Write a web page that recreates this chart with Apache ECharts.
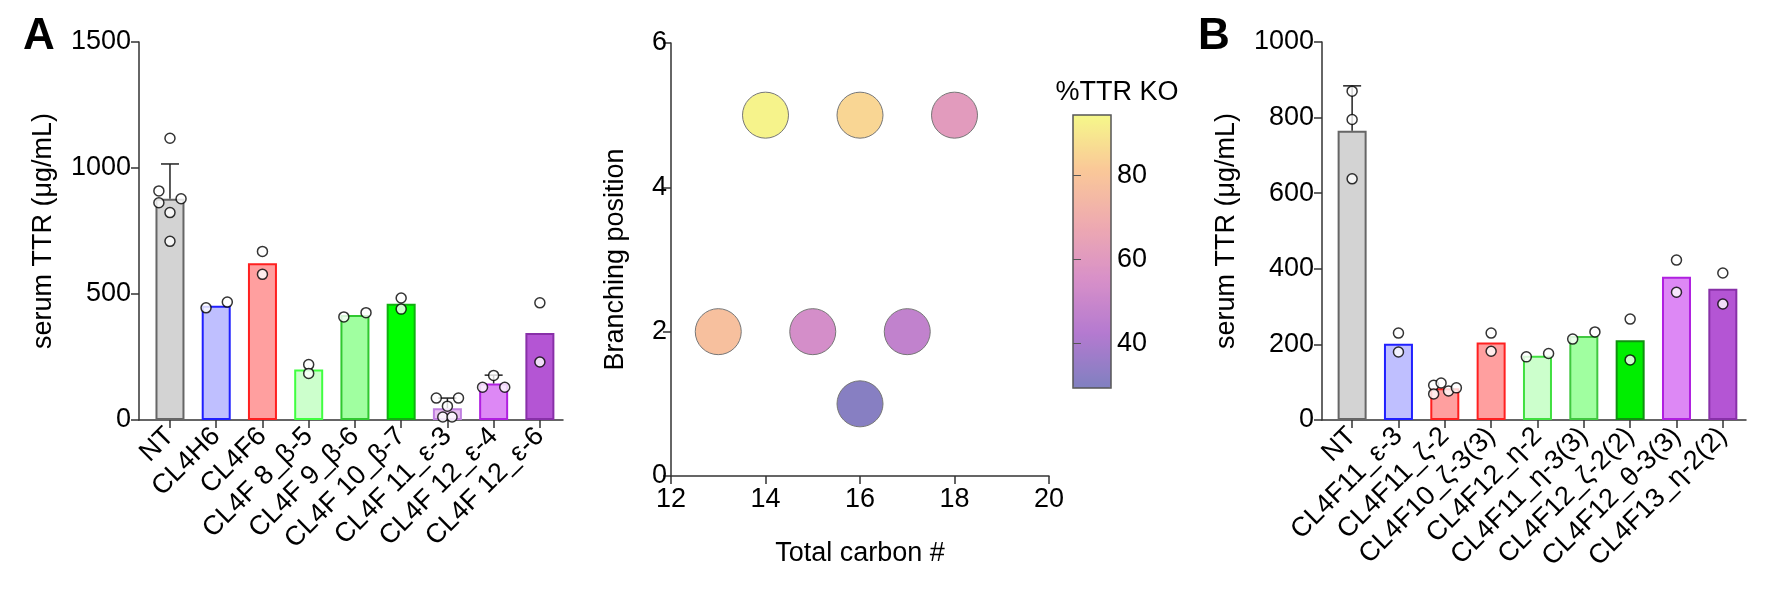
<!DOCTYPE html>
<html>
<head>
<meta charset="utf-8">
<script src="https://cdn.jsdelivr.net/npm/echarts@6/dist/echarts.min.js"></script>
<style>
  html, body { margin: 0; padding: 0; background: #fff; }
  #chart { width: 1774px; height: 591px; }
</style>
</head>
<body>
<div id="chart"></div>
<script>
// panel A
let namesA = ['NT', 'CL4H6', 'CL4F6', 'CL4F 8_β-5', 'CL4F 9_β-6', 'CL4F 10_β-7', 'CL4F 11_ε-3', 'CL4F 12_ε-4', 'CL4F 12_ε-6'];
let meanA = [878, 453, 622, 200, 417, 461, 47, 145, 345];
let errA = [1016, null, null, null, null, null, 87, 178, null];
let fillA = ['#d3d3d3', '#bfbfff', '#ff9f9f', '#ccffcc', '#a0ffa0', '#00ff00', '#e8c0f0', '#dd88f5', '#b455d4'];
let lineA = ['#666666', '#2020ff', '#ff2020', '#40ff40', '#30c830', '#10b010', '#c080e0', '#b020e0', '#8830a8'];
// dots: [bar index, offset, value]
let dotsA = [
    [0, 0, 1118], [0, -0.24, 909], [0, -0.24, 862], [0, 0.24, 878], [0, 0, 823], [0, 0, 709],
    [1, -0.22, 445], [1, 0.24, 468],
    [2, 0, 669], [2, 0, 578],
    [3, 0, 220], [3, 0, 185],
    [4, -0.24, 409], [4, 0.24, 426],
    [5, 0, 484], [5, 0, 440],
    [6, -0.24, 87], [6, 0.24, 87], [6, 0, 55], [6, -0.1, 12], [6, 0.1, 12],
    [7, -0.24, 130], [7, 0.24, 130], [7, 0, 177],
    [8, 0, 465], [8, 0, 230]
];

// panel B
let namesB = ['NT', 'CL4F11_ε-3', 'CL4F11_ζ-2', 'CL4F10_ζ-3(3)', 'CL4F12_η-2', 'CL4F11_η-3(3)', 'CL4F12_ζ-2(2)', 'CL4F12_θ-3(3)', 'CL4F13_η-2(2)'];
let meanB = [765, 202, 84, 205, 170, 222, 211, 379, 347];
let errB = [884, null, null, null, null, null, null, null, null];
let fillB = ['#d3d3d3', '#bfbfff', '#ff9f9f', '#ff9f9f', '#ccffcc', '#a0ffa0', '#00ee00', '#dd88f5', '#b455d4'];
let lineB = ['#666666', '#2020ff', '#ff2020', '#ff2020', '#40e040', '#40c840', '#109010', '#b020e0', '#8830a8'];
let dotsB = [
    [0, 0, 870], [0, 0, 795], [0, 0, 638],
    [1, 0, 230], [1, 0, 180],
    [2, -0.24, 92], [2, -0.08, 98], [2, -0.24, 69], [2, 0.08, 77], [2, 0.25, 85],
    [3, 0, 230], [3, 0, 182],
    [4, -0.24, 167], [4, 0.24, 176],
    [5, -0.24, 214], [5, 0.24, 233],
    [6, 0, 267], [6, 0, 159],
    [7, 0, 423], [7, 0, 338],
    [8, 0, 389], [8, 0, 307]
];

// middle: [total carbon, branching position, %TTR KO]
let bubbles = [
    [14, 5, 93], [16, 5, 85], [18, 5, 61],
    [13, 2, 78], [15, 2, 54], [17, 2, 47],
    [16, 1, 31]
];
let koMin = 29.3, koMax = 94.3;
let koTicks = [40, 60, 80];
let koColors = ['#8080c0', '#b47ad0', '#d890c8', '#eeaab0', '#fac898', '#f5f88a'];

let font = 'Liberation Sans, Arial, sans-serif';
let txt = { color: '#000', fontFamily: font, fontSize: 27 };
let axLine = { show: true, onZero: false, lineStyle: { color: '#333', width: 1.5 } };
let axTick = { show: true, length: 8, lineStyle: { color: '#333', width: 1.5 } };
let plain = v => String(v);

function barXAxis(gi, min, names) {
    return {
        type: 'value', gridIndex: gi, min: min, max: 8.5,
        splitLine: { show: false },
        axisLine: axLine,
        axisTick: Object.assign({ customValues: [0, 1, 2, 3, 4, 5, 6, 7, 8] }, axTick),
        axisLabel: Object.assign({
            customValues: [0, 1, 2, 3, 4, 5, 6, 7, 8], rotate: 45, margin: 12,
            formatter: v => names[Math.round(v)]
        }, txt)
    };
}
function barYAxis(gi, max, interval) {
    return {
        type: 'value', gridIndex: gi, min: 0, max: max, interval: interval,
        name: 'serum TTR (μg/mL)', nameLocation: 'middle', nameGap: 82,
        nameTextStyle: txt,
        splitLine: { show: false },
        axisLine: axLine, axisTick: axTick,
        axisLabel: Object.assign({ margin: 8, formatter: plain }, txt)
    };
}
function barSeries(ai, mean, fill, line, err, dots) {
    let errIdx = err.map((e, i) => i).filter(i => err[i] != null);
    return [{
        type: 'bar', xAxisIndex: ai, yAxisIndex: ai, barWidth: 29,
        data: mean.map((v, i) => ({
            value: [i, v],
            itemStyle: { color: fill[i], borderColor: line[i], borderWidth: 2 }
        })),
        z: 2
    }, {
        type: 'custom', xAxisIndex: ai, yAxisIndex: ai, z: 3,
        data: errIdx.map(i => [i, err[i]]),
        renderItem: (params, api) => {
            let i = errIdx[params.dataIndex];
            let top = api.coord([i, err[i]]);
            let base = api.coord([i, mean[i]]);
            let st = { stroke: '#222', lineWidth: 1.5 };
            return { type: 'group', children: [
                { type: 'line', shape: { x1: top[0], y1: top[1], x2: base[0], y2: base[1] }, style: st },
                { type: 'line', shape: { x1: top[0] - 9, y1: top[1], x2: top[0] + 9, y2: top[1] }, style: st }
            ] };
        }
    }, {
        type: 'scatter', xAxisIndex: ai, yAxisIndex: ai, z: 4,
        symbol: 'circle', symbolSize: 10,
        itemStyle: { color: '#fff', borderColor: '#000', borderWidth: 1.5 },
        data: dots.map(d => [d[0] + d[1], d[2]])
    }];
}

let chart = echarts.init(document.getElementById('chart'));
chart.setOption({
    backgroundColor: '#fff',
    animation: false,
    title: [
        { text: 'A', left: 18, top: 10, textStyle: { fontFamily: font, fontSize: 44, fontWeight: 'bold', color: '#000' } },
        { text: 'B', left: 1193, top: 10, textStyle: { fontFamily: font, fontSize: 44, fontWeight: 'bold', color: '#000' } },
        { text: '%TTR KO', left: 1112, top: 74, textAlign: 'center', textStyle: { fontFamily: font, fontSize: 27, fontWeight: 'normal', color: '#000' } }
    ],
    grid: [
        { left: 139, width: 424, top: 42, bottom: 171 },
        { left: 671, width: 378, top: 43, bottom: 115 },
        { left: 1322, width: 424, top: 42, bottom: 171 },
        { left: 1073, width: 38, top: 115, height: 273, show: true, borderColor: '#555', borderWidth: 1.5, backgroundColor: 'transparent', z: 10 }
    ],
    xAxis: [
        barXAxis(0, -0.67, namesA),
        {
            type: 'value', gridIndex: 1, min: 12, max: 20, interval: 2,
            name: 'Total carbon #', nameLocation: 'middle', nameGap: 64, nameTextStyle: txt,
            splitLine: { show: false }, axisLine: axLine, axisTick: axTick,
            axisLabel: Object.assign({ margin: 10 }, txt)
        },
        barXAxis(2, -0.65, namesB),
        { type: 'value', gridIndex: 3, show: false, min: 0, max: 1 }
    ],
    yAxis: [
        barYAxis(0, 1500, 500),
        {
            type: 'value', gridIndex: 1, min: 0, max: 6, interval: 2,
            name: 'Branching position', nameLocation: 'middle', nameGap: 42, nameTextStyle: txt,
            splitLine: { show: false }, axisLine: axLine, axisTick: axTick,
            axisLabel: Object.assign({ margin: 4 }, txt)
        },
        barYAxis(2, 1000, 200),
        {
            type: 'value', gridIndex: 3, position: 'right', min: koMin, max: koMax, z: 10,
            splitLine: { show: false }, axisLine: { show: false },
            axisTick: { show: true, customValues: koTicks, inside: false, length: 8, lineStyle: { color: '#555' } },
            axisLabel: Object.assign({ customValues: koTicks, margin: 6 }, txt)
        }
    ],
    visualMap: {
        type: 'continuous', seriesIndex: 6, dimension: 2,
        min: koMin, max: koMax, calculable: false, realtime: false,
        left: 1073, top: 115, itemWidth: 38, itemHeight: 273, padding: 0, itemGap: 0,
        text: null, showLabel: false, z: 1,
        inRange: { color: koColors }
    },
    series: [].concat(
        barSeries(0, meanA, fillA, lineA, errA, dotsA),
        barSeries(2, meanB, fillB, lineB, errB, dotsB),
        [{
            type: 'scatter', xAxisIndex: 1, yAxisIndex: 1,
            symbolSize: 46,
            itemStyle: { borderColor: '#777', borderWidth: 1, opacity: 1 },
            data: bubbles
        }]
    )
});
</script>
</body>
</html>
